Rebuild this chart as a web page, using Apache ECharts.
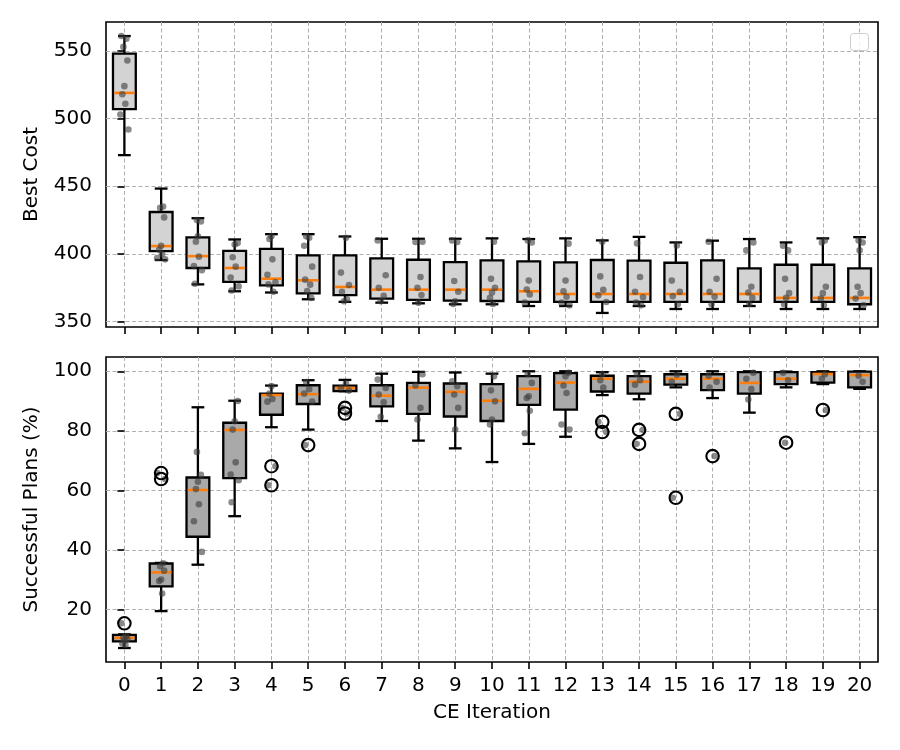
<!DOCTYPE html>
<html><head><meta charset="utf-8">
<script src="https://cdn.jsdelivr.net/npm/echarts@6/dist/echarts.min.js"></script>
<style>html,body{margin:0;padding:0;background:#fff}#c{width:900px;height:750px}</style>
</head><body><div id="c"></div>
<script>
const categories = ['0','1','2','3','4','5','6','7','8','9','10','11','12','13','14','15','16','17','18','19','20'];

// Best Cost: [whiskerLow, Q1, median, Q3, whiskerHigh]
const costStats = [
  [473, 507, 519, 548, 561],
  [395.5, 402, 405.8, 431, 448.3],
  [377.5, 389.6, 398.4, 412.2, 426.4],
  [372.4, 379.3, 389.6, 402.3, 410.7],
  [371.5, 376.8, 381.7, 403.8, 414.6],
  [366.5, 370.9, 380.5, 398.9, 414.6],
  [364.6, 369.5, 375.6, 398.9, 412.9],
  [364, 367, 373.6, 396.7, 411.2],
  [363.5, 366, 373.6, 395.7, 411.2],
  [362.8, 365.5, 373.6, 394, 411.2],
  [362.8, 365.2, 373.6, 395.3, 411.5],
  [361.5, 364.5, 372.4, 394.5, 411],
  [361.5, 364.5, 370.4, 393.8, 411.5],
  [356.4, 364.5, 370.4, 395.5, 410],
  [361.5, 364.5, 370.4, 395, 412.6],
  [359.3, 364.5, 370.4, 393.5, 408.5],
  [359.3, 364.5, 370.4, 395.3, 409.8],
  [361.5, 364.5, 370.4, 389.3, 411],
  [359.3, 364.5, 367.5, 392, 408.5],
  [359.3, 364.5, 367.5, 392, 411.5],
  [359.3, 362.8, 367.5, 389.3, 412.4]
];
const costPoints = [
  [561, 559, 553, 543, 524, 518, 511, 503, 492],
  [435, 434, 427, 406, 403, 400, 397, 396],
  [425, 424, 413, 409, 398, 391, 388, 378],
  [408, 407, 397.5, 390.6, 382.5, 376, 373],
  [413, 411, 396, 384.6, 379, 377.5, 372],
  [413, 412, 406, 390.6, 381, 377.3, 372.6, 367.5],
  [412, 386.2, 377, 372, 366.5, 365],
  [410, 384.2, 375, 369, 365],
  [409, 408.8, 383, 375, 369.7, 364],
  [410, 408.8, 380, 372, 365, 363],
  [409, 381.6, 375, 371.5, 367.5, 363],
  [410, 408.5, 380.3, 373.7, 370, 364],
  [407.6, 380.3, 372.4, 368.4, 364, 362],
  [409, 383.4, 373.4, 369.4, 364.5],
  [407.8, 383, 372, 368, 364, 362],
  [406.3, 380.3, 372, 368.7, 362.8],
  [409, 381.6, 372, 368.4, 362.8],
  [408.5, 402.6, 375.8, 371.5, 367.5, 363],
  [406, 402.6, 381.6, 371, 367.5, 362.8],
  [410, 408.5, 375.8, 371, 367, 362],
  [410, 408.5, 402.6, 375.8, 371, 367, 362]
];

// Successful Plans (%): [whiskerLow, Q1, median, Q3, whiskerHigh]
const planStats = [
  [7.0, 9.2, 10.4, 11.4, 11.6],
  [19.4, 27.7, 32.4, 35.4, 35.6],
  [35, 44.4, 60.1, 64.3, 87.9],
  [51.3, 64.1, 80.3, 82.7, 90.1],
  [81.2, 85.4, 92.0, 92.5, 95.2],
  [80.4, 89, 92.3, 95.3, 97],
  [93.3, 93.3, 94.4, 95.2, 97.1],
  [83.3, 88.2, 91.8, 95.3, 99.2],
  [76.7, 85.7, 94.5, 96.1, 99.8],
  [74.1, 84.8, 93.1, 95.9, 99.6],
  [69.5, 83.3, 90.1, 95.7, 99.2],
  [75.6, 88.7, 94.1, 98.4, 100],
  [78, 87.1, 96.2, 99.4, 100],
  [92, 93.2, 97.5, 98.5, 99.7],
  [90.6, 92.5, 96.5, 98.4, 100],
  [94.6, 95.5, 97.5, 99, 100],
  [91, 93.7, 97.5, 99, 100],
  [86.1, 92.5, 96.1, 99.7, 100],
  [94.6, 95.7, 97.5, 99.7, 99.9],
  [95.7, 96.2, 99.1, 99.7, 100],
  [94.1, 94.6, 98.7, 99.9, 100]
];
const planOutliers = [
  [15.3], [65.8, 63.8], [], [], [68.1, 61.7], [75.2], [87.7, 85.8], [], [], [], [],
  [], [], [83, 79.6], [80.3, 75.6], [85.7, 57.5], [71.5], [], [76], [87], []
];
const planPoints = [
  [15.3, 11, 10.5, 10, 9.5, 8.5, 8],
  [35.5, 34.5, 33, 30, 29.5, 25.3, 65.8, 63.8],
  [72.9, 65.2, 62.9, 60.4, 55.3, 49.6, 39.3],
  [90, 83.2, 80.4, 69.4, 65.3, 63.4, 56],
  [95, 92.5, 90.7, 89.8, 68.1, 61.7],
  [96.4, 94, 92.5, 89.8, 75.2],
  [96, 94.4, 93.5, 87.7, 85.8],
  [97.2, 94.4, 92.2, 89.6, 84.7],
  [99, 95.2, 87.7, 83.8],
  [96.6, 95, 92.2, 87.7, 80.4],
  [98.3, 93.6, 89.9, 83.8, 82.1],
  [99, 96.1, 91.6, 91, 86.7, 79.2],
  [99.5, 98.3, 95.2, 92.7, 82.1, 80.4],
  [99, 97, 94.5, 83, 79.6],
  [99, 97, 95.5, 80.3, 75.6],
  [98.8, 96.5, 85.7, 57.5],
  [98.5, 96.5, 94.5, 71.5],
  [99.5, 97.5, 94, 90.5],
  [99.5, 97, 76],
  [99, 97.5, 87],
  [98.5, 96.5]
];

const costTicks = [350, 400, 450, 500, 550];
const planTicks = [20, 40, 60, 80, 100];
const xTicks = categories.map((c, i) => i);

const FONT = 'DejaVu Sans';
const FS = 20;

function boxData(stats) { return stats.map((s, i) => [i].concat(s)); }
function pointData(pts) {
  const out = [];
  pts.forEach((arr, i) => arr.forEach((v, k) => out.push([i, v, k])));
  return out;
}
function outlierData(o) {
  const out = [];
  o.forEach((arr, i) => arr.forEach(v => out.push([i, v])));
  return out;
}
function boxRender(fill) {
  return function (params, api) {
    const x = api.value(0);
    const lo = api.coord([x, api.value(1)]);
    const q1 = api.coord([x, api.value(2)]);
    const md = api.coord([x, api.value(3)]);
    const q3 = api.coord([x, api.value(4)]);
    const hi = api.coord([x, api.value(5)]);
    const w = api.size([1, 0])[0] * 0.62;
    const cw = w * 0.28;
    const cx = q1[0];
    const ls = { stroke: '#000', lineWidth: 2.3 };
    return {
      type: 'group',
      children: [
        { type: 'line', shape: { x1: cx, y1: q3[1], x2: cx, y2: hi[1] }, style: ls },
        { type: 'line', shape: { x1: cx, y1: q1[1], x2: cx, y2: lo[1] }, style: ls },
        { type: 'line', shape: { x1: cx - cw, y1: hi[1], x2: cx + cw, y2: hi[1] }, style: ls },
        { type: 'line', shape: { x1: cx - cw, y1: lo[1], x2: cx + cw, y2: lo[1] }, style: ls },
        { type: 'rect', shape: { x: cx - w / 2, y: q3[1], width: w, height: q1[1] - q3[1] },
          style: { fill: fill, stroke: '#000', lineWidth: 2.3 } },
        { type: 'line', shape: { x1: cx - w / 2 + 1.2, y1: md[1], x2: cx + w / 2 - 1.2, y2: md[1] },
          style: { stroke: '#ff7f0e', lineWidth: 2.6 } }
      ]
    };
  };
}
const jit = [-3, 2, -1, 3, 0, -2, 1, -4, 4];
function pointRender(params, api) {
  const p = api.coord([api.value(0), api.value(1)]);
  const k = api.value(2);
  return { type: 'circle', shape: { cx: p[0] + jit[(k + api.value(0)) % jit.length], cy: p[1], r: 3.3 },
    style: { fill: 'rgba(60,60,60,0.6)' } };
}

function xAxisCfg(gridIndex, showLabels) {
  return {
    type: 'value', gridIndex, min: -0.5, max: 20.5, minInterval: 1, maxInterval: 1,
    axisLine: { show: false },
    axisTick: { show: true, length: 7, inside: false, customValues: xTicks, lineStyle: { color: '#000', width: 1.6 } },
    axisLabel: { show: showLabels, customValues: xTicks, margin: 14, color: '#000', fontSize: FS, fontFamily: FONT,
      formatter: v => categories[Math.round(v)] },
    splitLine: { show: true, lineStyle: { color: '#b0b0b0', type: [4, 2.5], width: 1 } },
    name: showLabels ? 'CE Iteration' : '', nameLocation: 'middle', nameGap: 41,
    nameTextStyle: { color: '#000', fontSize: FS, fontFamily: FONT, verticalAlign: 'top' }
  };
}
function yAxisCfg(gridIndex, min, max, interval, ticks, name) {
  return {
    type: 'value', gridIndex, min, max, minInterval: interval, maxInterval: interval,
    axisLine: { show: false },
    axisTick: { show: true, length: 7, inside: false, customValues: ticks, lineStyle: { color: '#000', width: 1.6 } },
    axisLabel: { customValues: ticks, margin: 14, color: '#000', fontSize: FS, fontFamily: FONT },
    splitLine: { show: true, lineStyle: { color: '#b0b0b0', type: [4, 2.5], width: 1 } },
    name, nameLocation: 'middle', nameGap: 64, nameRotate: 90,
    nameTextStyle: { color: '#000', fontSize: FS, fontFamily: FONT }
  };
}

const chart = echarts.init(document.getElementById('c'), null, { renderer: 'canvas' });
chart.setOption({
  animation: false,
  backgroundColor: '#fff',
  grid: [
    { left: 106, top: 22, width: 772, height: 305, show: true, borderColor: '#000', borderWidth: 1.6, backgroundColor: 'transparent' },
    { left: 106, top: 357, width: 772, height: 305, show: true, borderColor: '#000', borderWidth: 1.6, backgroundColor: 'transparent' }
  ],
  xAxis: [xAxisCfg(0, false), xAxisCfg(1, true)],
  yAxis: [
    yAxisCfg(0, 346, 571.4, 50, costTicks, 'Best Cost'),
    yAxisCfg(1, 2.3, 104.8, 20, planTicks, 'Successful Plans (%)')
  ],
  graphic: [
    { type: 'rect', left: 850, top: 33, shape: { width: 18, height: 17, r: 3 },
      style: { fill: 'rgba(255,255,255,0.8)', stroke: '#cccccc', lineWidth: 1 }, z: 100 }
  ],
  series: [
    { type: 'custom', xAxisIndex: 0, yAxisIndex: 0, renderItem: boxRender('#d3d3d3'), data: boxData(costStats), z: 2,
      encode: { x: 0, y: [1, 2, 3, 4, 5] } },
    { type: 'custom', xAxisIndex: 0, yAxisIndex: 0, renderItem: pointRender, data: pointData(costPoints), z: 3,
      encode: { x: 0, y: 1 } },
    { type: 'custom', xAxisIndex: 1, yAxisIndex: 1, renderItem: boxRender('#a9a9a9'), data: boxData(planStats), z: 2,
      encode: { x: 0, y: [1, 2, 3, 4, 5] } },
    { type: 'custom', xAxisIndex: 1, yAxisIndex: 1, renderItem: pointRender, data: pointData(planPoints), z: 3,
      encode: { x: 0, y: 1 } },
    { type: 'scatter', xAxisIndex: 1, yAxisIndex: 1, data: outlierData(planOutliers), symbol: 'circle',
      symbolSize: 12.5, itemStyle: { color: 'rgba(0,0,0,0)', borderColor: '#000', borderWidth: 2.1, opacity: 1 }, z: 4,
      emphasis: { disabled: true } }
  ]
});
</script>
</body></html>
